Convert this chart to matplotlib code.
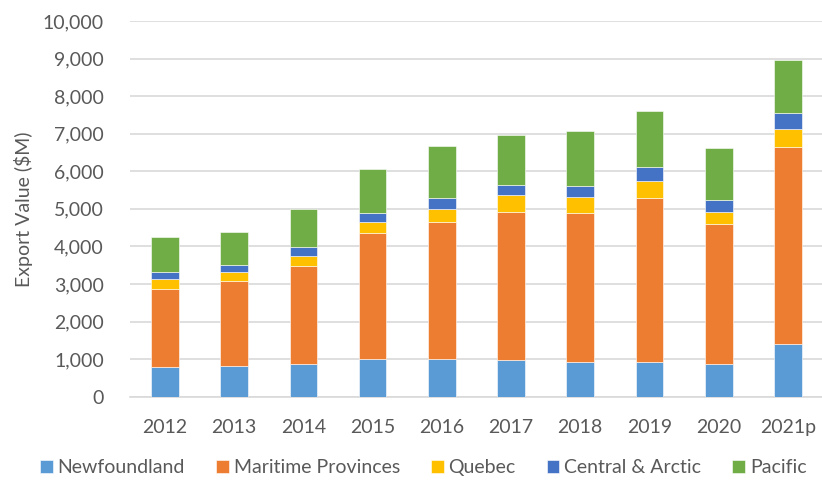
import numpy as np
import matplotlib
matplotlib.use('Agg')
import matplotlib.pyplot as plt
from matplotlib.ticker import FuncFormatter

plt.rcParams['font.family'] = ['Lato', 'DejaVu Sans']

# Export values ($M) by region
years = ['2012', '2013', '2014', '2015', '2016', '2017', '2018', '2019', '2020', '2021p']
newfoundland = [780, 816, 860, 993, 1002, 965, 929, 912, 876, 1407]
maritime = [2075, 2269, 2606, 3360, 3661, 3938, 3956, 4389, 3717, 5239]
quebec = [266, 239, 275, 284, 346, 460, 425, 451, 336, 487]
central_arctic = [195, 169, 231, 257, 275, 274, 292, 372, 310, 416]
pacific = [930, 886, 1037, 1179, 1392, 1336, 1460, 1478, 1372, 1407]

series = [
    ('Newfoundland', newfoundland, '#5b9bd5'),
    ('Maritime Provinces', maritime, '#ed7d31'),
    ('Quebec', quebec, '#ffc000'),
    ('Central & Arctic', central_arctic, '#4472c4'),
    ('Pacific', pacific, '#70ad47'),
]

text_col = '#595959'
fs = 14

fig = plt.figure(figsize=(8.22, 4.83), dpi=100)
ax = fig.add_axes([0.1586, 0.1787, 0.842, 0.7778])

x = np.arange(len(years))
bottom = np.zeros(len(years))
for name, vals, col in series:
    ax.bar(x, vals, width=0.4, bottom=bottom, color=col, label=name,
           edgecolor='white', linewidth=0.4, zorder=3)
    bottom += np.array(vals)

ax.set_ylim(0, 10000)
ax.set_xlim(-0.5, len(years) - 0.5)
ax.set_yticks(np.arange(0, 10001, 1000))
ax.yaxis.set_major_formatter(FuncFormatter(lambda v, p: f'{int(v):,}'))
ax.set_xticks(x)
ax.set_xticklabels(years)
ax.grid(axis='y', color='#d9d9d9', linewidth=1.2, zorder=0)
for s in ['top', 'right', 'left']:
    ax.spines[s].set_visible(False)
ax.spines['bottom'].set_color('#d9d9d9')
ax.spines['bottom'].set_linewidth(1.2)
ax.tick_params(axis='both', length=0, labelsize=fs, colors=text_col)
ax.tick_params(axis='y', pad=19)
ax.tick_params(axis='x', pad=16)
ax.set_ylabel('Export Value ($M)', fontsize=fs, color=text_col, labelpad=7)

handles, labels = ax.get_legend_handles_labels()
fig.legend(handles, labels, loc='lower center', ncol=5, frameon=False,
           bbox_to_anchor=(0.515, -0.022), fontsize=fs, labelcolor=text_col,
           handlelength=0.65, handleheight=0.65, handletextpad=0.25, columnspacing=1.6)

fig.savefig('out.png', dpi=100)
